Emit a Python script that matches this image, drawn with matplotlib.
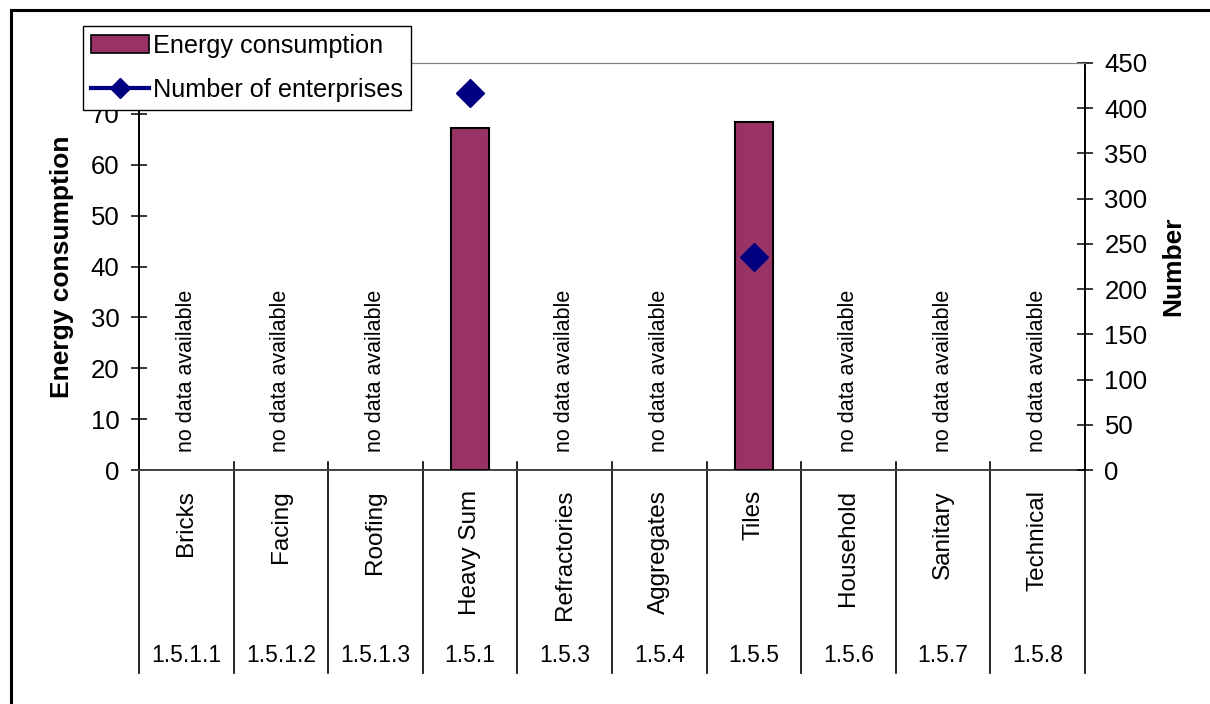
import numpy as np
import matplotlib
matplotlib.use("Agg")
import matplotlib.pyplot as plt
from matplotlib.lines import Line2D
from matplotlib.patches import Rectangle
import matplotlib.transforms as mtransforms

plt.rcParams["font.family"] = ["Liberation Sans", "DejaVu Sans"]

# ── Data ──────────────────────────────────────────────────────
categories = ["Bricks", "Facing", "Roofing", "Heavy Sum", "Refractories",
              "Aggregates", "Tiles", "Household", "Sanitary", "Technical"]
codes = ["1.5.1.1", "1.5.1.2", "1.5.1.3", "1.5.1", "1.5.3",
         "1.5.4", "1.5.5", "1.5.6", "1.5.7", "1.5.8"]
energy = [np.nan, np.nan, np.nan, 67.2, np.nan, np.nan, 68.4, np.nan, np.nan, np.nan]
enterprises = [np.nan, np.nan, np.nan, 417, np.nan, np.nan, 236, np.nan, np.nan, np.nan]
no_data_note = "no data available"

BAR_COLOR = "#993366"
LINE_COLOR = "#000080"

# ── Figure ────────────────────────────────────────────────────
fig = plt.figure(figsize=(12.1, 7.04), dpi=100)
W, H = 1210, 704

# outer frame (runs off the right/bottom edge like the source)
fig.patches.append(Rectangle((11 / W, -0.1), 1.2, 1 - 10 / H + 0.1,
                             transform=fig.transFigure, fill=False,
                             edgecolor="black", linewidth=2.2, zorder=0))

ax = fig.add_axes([139 / W, 1 - 470 / H, (1085 - 139) / W, (470 - 63) / H])
ax2 = ax.twinx()

x = np.arange(len(categories))
ax.bar(x, energy, width=0.4, color=BAR_COLOR, edgecolor="black", linewidth=1.5, zorder=3)
ax2.plot(x, enterprises, color=LINE_COLOR, marker="D", markersize=14,
         linewidth=3, zorder=4)

ax.set_xlim(-0.5, len(categories) - 0.5)
ax.set_ylim(0, 80)
ax.set_yticks(np.arange(0, 81, 10))
ax2.set_ylim(0, 450)
ax2.set_yticks(np.arange(0, 451, 50))

ax.set_xticks([])
for a in (ax, ax2):
    a.tick_params(axis="y", direction="inout", length=12, width=1.1,
                  labelsize=18.5, pad=8)
ax.spines["left"].set_linewidth(1.4)
ax2.spines["right"].set_linewidth(1.4)
ax.spines["top"].set_color("#808080")
ax2.spines["top"].set_color("#808080")
ax.spines["bottom"].set_color("#404040")
ax.spines["bottom"].set_linewidth(1.4)
ax2.spines["bottom"].set_visible(False)
ax.spines["right"].set_visible(False)
ax2.spines["left"].set_visible(False)

ax.set_ylabel("Energy consumption", fontsize=19, fontweight="bold", labelpad=12)
ax2.set_ylabel("Number", fontsize=19, fontweight="bold", labelpad=10)

# "no data available" notes
for i, v in enumerate(energy):
    if np.isnan(v):
        ax.text(i, 3.5, no_data_note, rotation=90, ha="center", va="bottom",
                fontsize=15.5)

# category table below the axis
trans = mtransforms.blended_transform_factory(ax.transData, ax.transAxes)
px = 1 / (470 - 63)
for b in np.arange(-0.5, len(categories), 1.0):
    ax.add_line(Line2D([b, b], [8 * px, -203 * px], transform=trans,
                       color="black", linewidth=1.2, clip_on=False))
for i, (c, code) in enumerate(zip(categories, codes)):
    ax.text(i, -20 * px, c, rotation=90, ha="center", va="top",
            fontsize=17.5, transform=trans)
    ax.text(i, -185 * px, code, ha="center", va="center",
            fontsize=16.5, transform=trans)

# legend
handles = [Rectangle((0, 0), 1, 1, facecolor=BAR_COLOR, edgecolor="black", linewidth=1.2),
           Line2D([], [], color=LINE_COLOR, marker="D", markersize=10, linewidth=3)]
leg = fig.legend(handles, ["Energy consumption", "Number of enterprises"],
                 loc="upper left", bbox_to_anchor=(83 / W, 1 - 26 / H),
                 fontsize=18.2, frameon=True, fancybox=False, framealpha=1,
                 edgecolor="black", handlelength=2.3, handletextpad=0.15,
                 borderpad=0.32, labelspacing=0.8, borderaxespad=0)
leg.get_frame().set_linewidth(1.0)
leg.set_zorder(10)

fig.savefig("out.png", dpi=100)
